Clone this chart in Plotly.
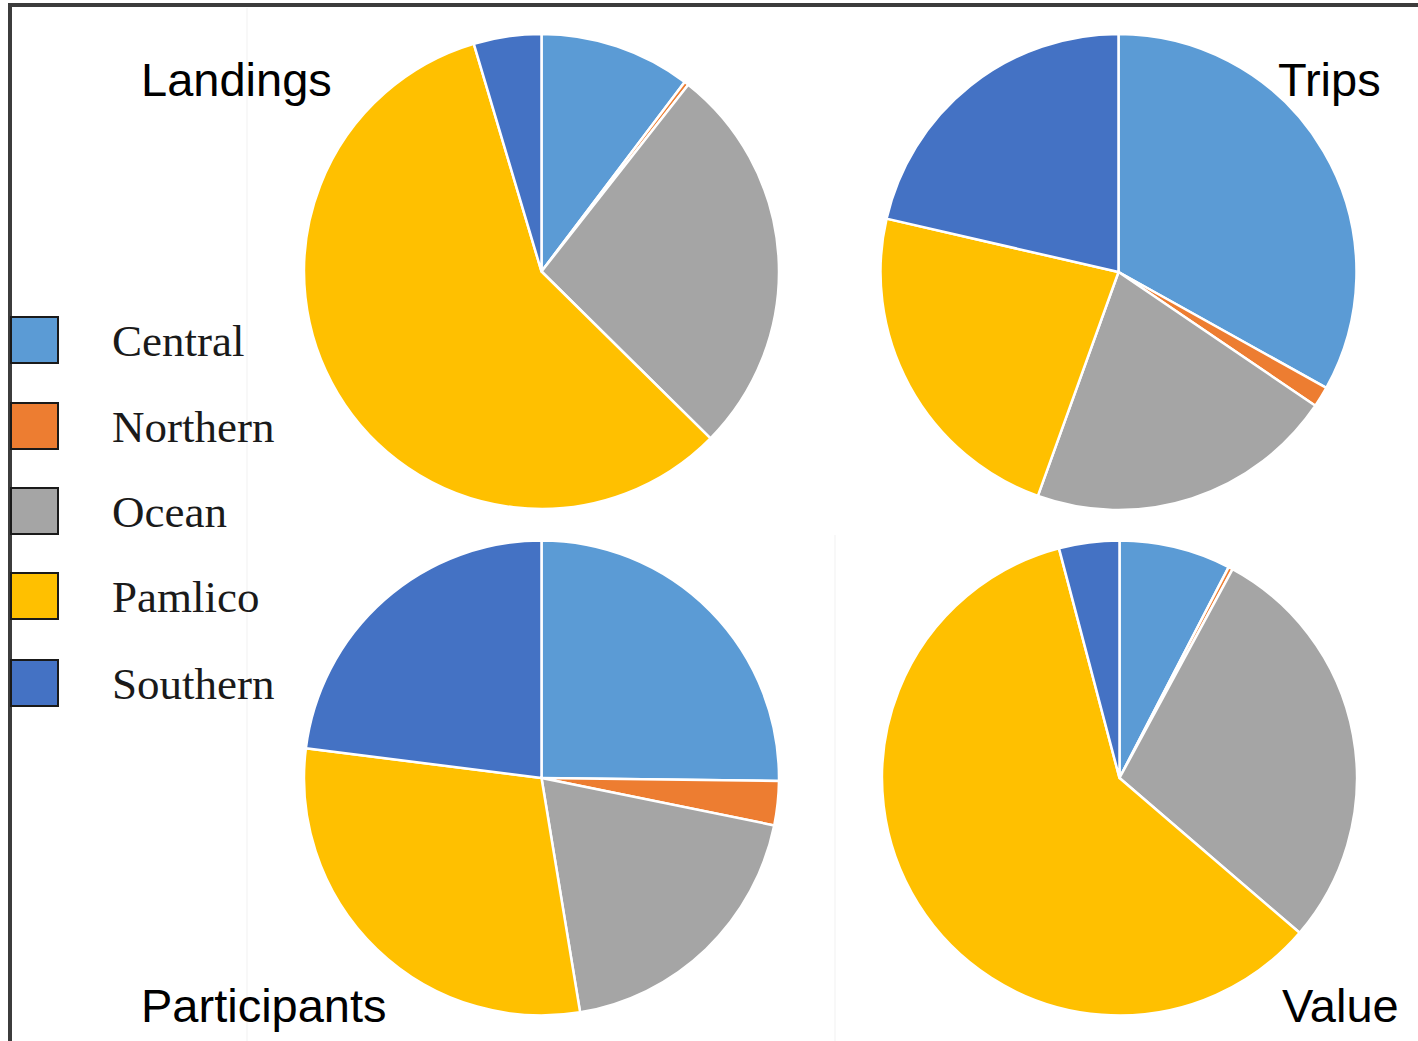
import plotly.graph_objects as go

W, H = 1418, 1041

regions = ["Central", "Northern", "Ocean", "Pamlico", "Southern"]
colors = ["#5B9BD5", "#ED7D31", "#A5A5A5", "#FFC000", "#4472C4"]

landings = [10.3, 0.3, 26.8, 58.0, 4.6]
trips = [33.1, 1.4, 21.0, 23.1, 21.4]
participants = [25.2, 3.0, 19.2, 29.6, 23.0]
value = [7.6, 0.3, 28.4, 59.6, 4.1]

titles = ["Landings", "Trips", "Participants", "Value"]


def px_x(v):
    return v / W


def px_y(v):
    return 1 - v / H


# pie domains in pixels: (left, right, top, bottom)
boxes = [(304, 779, 34, 509), (880, 1357, 34, 510), (304, 779, 540, 1016), (882, 1357, 540, 1016)]
series = [landings, trips, participants, value]

fig = go.Figure()
for vals, (l, r, t, b) in zip(series, boxes):
    fig.add_trace(go.Pie(
        labels=regions, values=vals, sort=False, direction="clockwise", rotation=0,
        marker=dict(colors=colors, line=dict(color="white", width=2.5)),
        textinfo="none", hoverinfo="label+percent", showlegend=False,
        domain=dict(x=[px_x(l), px_x(r)], y=[px_y(b), px_y(t)]),
    ))

shapes = []
annotations = []

# frame lines
shapes.append(dict(type="line", xref="paper", yref="paper", x0=px_x(8), x1=1, y0=px_y(5), y1=px_y(5),
                   line=dict(color="#3c3c3c", width=4)))
shapes.append(dict(type="line", xref="paper", yref="paper", x0=px_x(10), x1=px_x(10), y0=0, y1=px_y(3),
                   line=dict(color="#3c3c3c", width=4)))
# faint scan lines
shapes.append(dict(type="line", xref="paper", yref="paper", x0=px_x(247), x1=px_x(247), y0=0, y1=px_y(8),
                   line=dict(color="#f6f6f6", width=1.5)))
shapes.append(dict(type="line", xref="paper", yref="paper", x0=px_x(835), x1=px_x(835), y0=0, y1=px_y(535),
                   line=dict(color="#f6f6f6", width=1.5)))

# legend
tops = [317, 403, 488, 573, 660]
for name, col, top in zip(regions, colors, tops):
    shapes.append(dict(type="rect", xref="paper", yref="paper",
                       x0=px_x(11), x1=px_x(58), y0=px_y(top + 46), y1=px_y(top),
                       fillcolor=col, line=dict(color="#1a1a1a", width=2)))
    annotations.append(dict(text=name, xref="paper", yref="paper", x=px_x(110), y=px_y(top + 24),
                            xanchor="left", yanchor="middle", showarrow=False,
                            font=dict(family="Liberation Serif", size=45, color="#1a1a1a")))

# titles
title_pos = [(139, 80, "left"), (1383, 80, "right"), (139, 1005, "left"), (1401, 1005, "right")]
for txt, (x, y, anc) in zip(titles, title_pos):
    annotations.append(dict(text=txt, xref="paper", yref="paper", x=px_x(x), y=px_y(y),
                            xanchor=anc, yanchor="middle", showarrow=False,
                            font=dict(family="Liberation Sans", size=47, color="black")))

fig.update_layout(
    width=W, height=H, autosize=False,
    margin=dict(l=0, r=0, t=0, b=0),
    paper_bgcolor="white", plot_bgcolor="white",
    shapes=shapes, annotations=annotations, showlegend=False,
)

fig.write_html("out.html", config={"displayModeBar": False},
               post_script="document.body.style.margin='0';document.body.style.overflow='hidden';")
